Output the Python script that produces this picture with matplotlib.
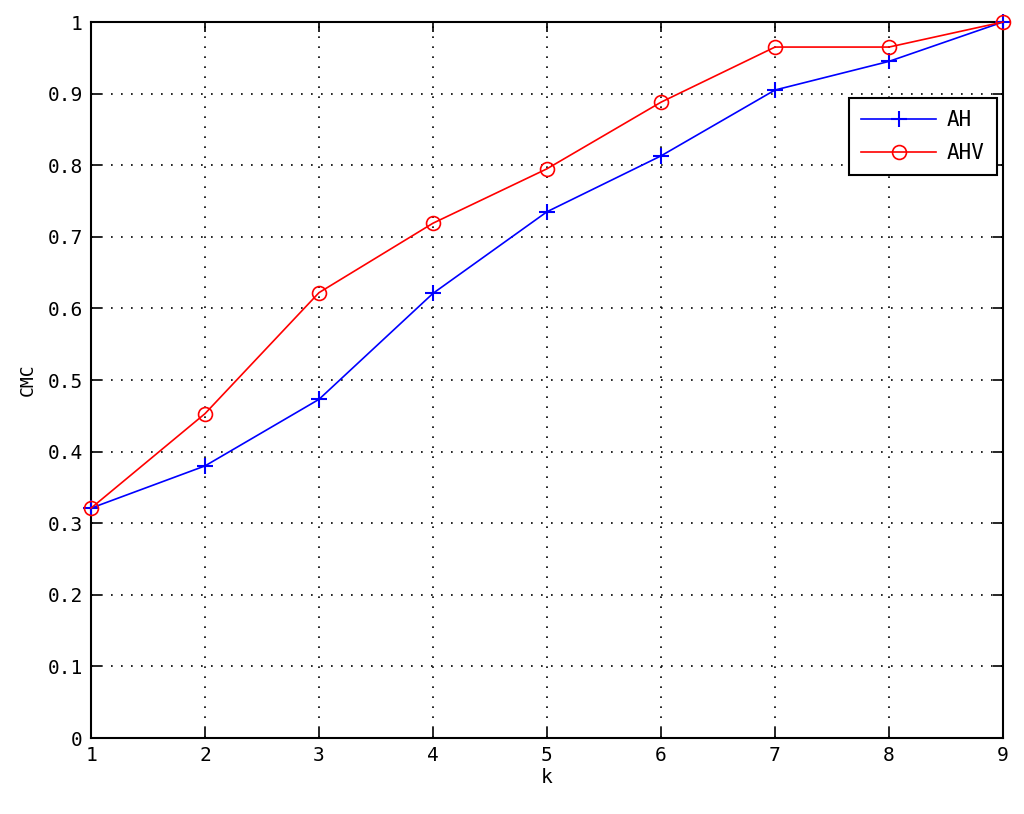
import numpy as np
from matplotlib import pyplot as plt

k = [1, 2, 3, 4, 5, 6, 7, 8, 9]
cmc_ah = [0.321, 0.380, 0.473, 0.621, 0.735, 0.813, 0.905, 0.945, 1.0]
cmc_ahv = [0.321, 0.453, 0.622, 0.719, 0.795, 0.888, 0.965, 0.965, 1.0]
y_ticks = [0, 0.1, 0.2, 0.3, 0.4, 0.5, 0.6, 0.7, 0.8, 0.9, 1]
y_labels = ['0', '0.1', '0.2', '0.3', '0.4', '0.5', '0.6', '0.7', '0.8', '0.9', '1']

plt.rcParams['font.family'] = 'DejaVu Sans Mono'
fig = plt.figure(figsize=(10.24, 8.14), dpi=100)
ax = fig.add_axes([91 / 1024, 76 / 814, 912 / 1024, 716 / 814])

ax.plot(k, cmc_ah, '-', color='blue', marker='+', markersize=12, mew=1.5, lw=1.2,
        label='AH', clip_on=False, zorder=3)
ax.plot(k, cmc_ahv, '-', color='red', marker='o', markersize=10, mfc='none', mew=1.2, lw=1.2,
        label='AHV', clip_on=False, zorder=3)

ax.set_xlim(1, 9)
ax.set_ylim(0, 1)
ax.set_xticks(k)
ax.set_yticks(y_ticks)
ax.set_yticklabels(y_labels)
ax.tick_params(direction='in', top=True, right=True, length=7, width=1.2, labelsize=14, pad=6)
for s in ax.spines.values():
    s.set_linewidth(1.5)
ax.grid(True, linestyle=(0, (1, 5)), color='black', linewidth=1.2)
ax.set_xlabel('k', fontsize=14, labelpad=2)
ax.set_ylabel('CMC', fontsize=13, labelpad=8)

leg = ax.legend(loc='upper right', bbox_to_anchor=(0.9934, 0.894), fontsize=15, fancybox=False,
                framealpha=1, edgecolor='black', borderaxespad=0, handlelength=3.6,
                labelspacing=0.6, borderpad=0.6, handletextpad=0.5)
leg.get_frame().set_linewidth(1.5)

plt.savefig('out.png', dpi=100)
